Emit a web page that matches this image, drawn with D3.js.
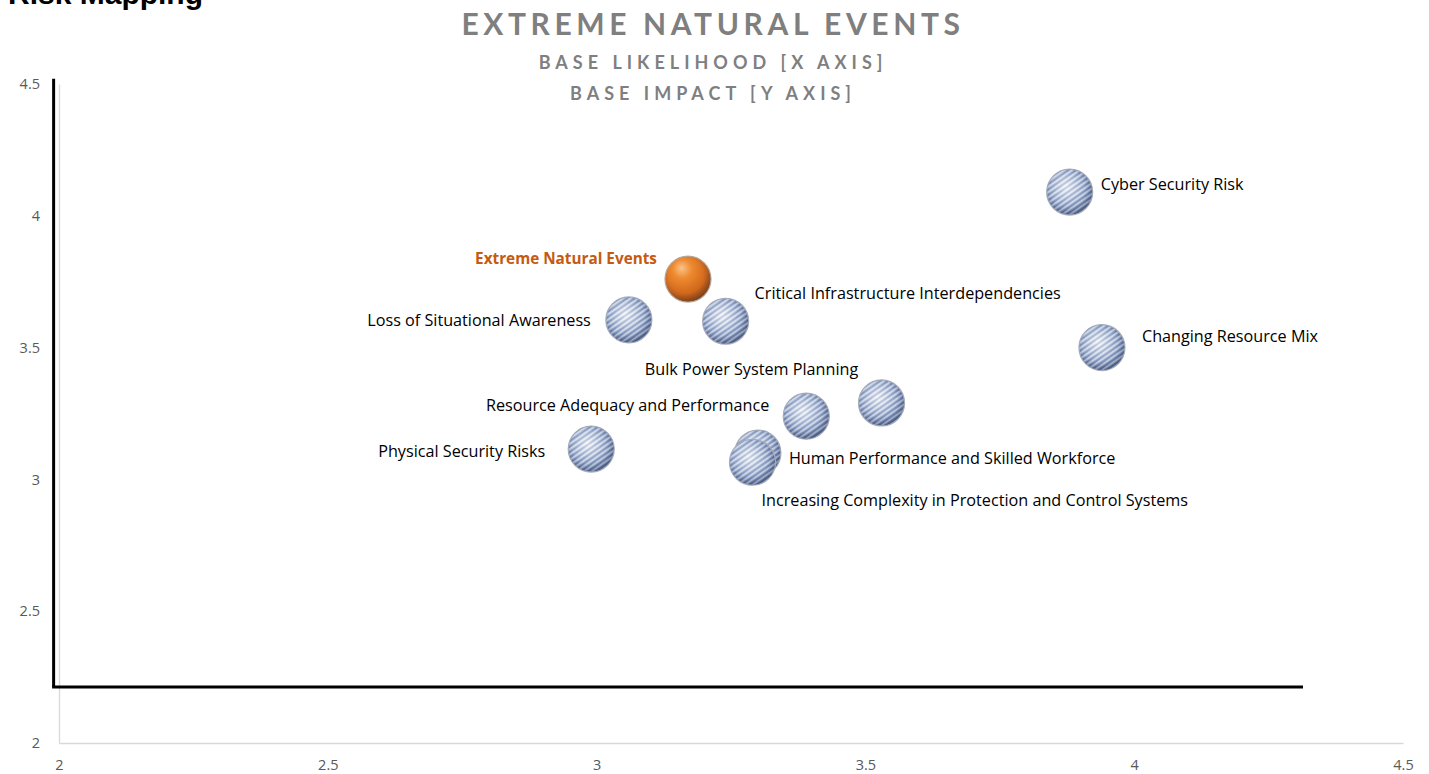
<!DOCTYPE html>
<html><head><meta charset="utf-8">
<script src="https://cdn.jsdelivr.net/npm/d3@7/dist/d3.min.js"></script>
<style>
html,body{margin:0;padding:0;background:#fff;overflow:hidden}
svg{display:block}
</style></head>
<body>
<svg id="chart" width="1429" height="774"></svg>
<script>
// ---- data ----
const risks = [
  "Cyber Security Risk",
  "Extreme Natural Events",
  "Critical Infrastructure Interdependencies",
  "Loss of Situational Awareness",
  "Changing Resource Mix",
  "Bulk Power System Planning",
  "Resource Adequacy and Performance",
  "Physical Security Risks",
  "Human Performance and Skilled Workforce",
  "Increasing Complexity in Protection and Control Systems"
];
const likelihood = [3.88, 3.17, 3.24, 3.06, 3.94, 3.53, 3.39, 2.99, 3.30, 3.29];
const impact     = [4.09, 3.76, 3.60, 3.605, 3.50, 3.29, 3.24, 3.115, 3.10, 3.065];
const highlighted = "Extreme Natural Events";
const xTicks = [2, 2.5, 3, 3.5, 4, 4.5];
const yTicks = [2, 2.5, 3, 3.5, 4, 4.5];
const xDomain = [2, 4.5];
const yDomain = [2, 4.5];
// reference frame lines (data units)
const frameX = 1.99, frameYTop = 4.52, frameYBottom = 2.212, frameXRight = 4.314;

// ---- layout (label placement, not data) ----
const labelPlacement = [
  {dx: 31, dy: -8, anchor: "start"},
  {dx: -31, dy: -20, anchor: "end"},
  {dx: 29, dy: -28, anchor: "start"},
  {dx: -38, dy: 0, anchor: "end"},
  {dx: 40, dy: -11, anchor: "start"},
  {dx: -130, dy: -34, anchor: "middle"},
  {dx: -37, dy: -11, anchor: "end"},
  {dx: -46, dy: 2, anchor: "end"},
  {dx: 31, dy: 5, anchor: "start"},
  {dx: 9, dy: 38, anchor: "start"}
];

const svg = d3.select("#chart");
const x = d3.scaleLinear().domain(xDomain).range([59, 1403]);
const y = d3.scaleLinear().domain(yDomain).range([743, 84]);
const R = 23;

const defs = svg.append("defs");
// blue sphere gradient
const bg = defs.append("radialGradient").attr("id","blueSphere")
  .attr("cx","45%").attr("cy","42%").attr("r","62%").attr("fx","42%").attr("fy","38%");
bg.append("stop").attr("offset","0%").attr("stop-color","#edf1f8");
bg.append("stop").attr("offset","35%").attr("stop-color","#bfcce3");
bg.append("stop").attr("offset","72%").attr("stop-color","#8499c2");
bg.append("stop").attr("offset","100%").attr("stop-color","#4c6290");
// stripes pattern
const pat = defs.append("pattern").attr("id","stripes").attr("patternUnits","userSpaceOnUse")
  .attr("width",4.4).attr("height",4.4).attr("patternTransform","rotate(-35)");
pat.append("rect").attr("x",0).attr("y",0).attr("width",4.4).attr("height",2.0).attr("fill","rgba(255,255,255,0.5)");
pat.append("rect").attr("x",0).attr("y",2.4).attr("width",4.4).attr("height",1.6).attr("fill","rgba(50,70,120,0.22)");
// edge shading overlay
const sh = defs.append("radialGradient").attr("id","edgeShade")
  .attr("cx","45%").attr("cy","42%").attr("r","60%");
sh.append("stop").attr("offset","65%").attr("stop-color","rgba(40,50,80,0)");
sh.append("stop").attr("offset","100%").attr("stop-color","rgba(40,50,80,0.3)");
// orange sphere
const og = defs.append("radialGradient").attr("id","orangeSphere")
  .attr("cx","40%").attr("cy","32%").attr("r","70%").attr("fx","36%").attr("fy","26%");
og.append("stop").attr("offset","0%").attr("stop-color","#fbc38a");
og.append("stop").attr("offset","30%").attr("stop-color","#ee8a30");
og.append("stop").attr("offset","75%").attr("stop-color","#d0661a");
og.append("stop").attr("offset","100%").attr("stop-color","#9a4608");

// title
svg.append("text").attr("x",8).attr("y",4).attr("font-family","Liberation Sans, Arial, sans-serif")
  .attr("font-weight","bold").attr("font-size",30).attr("fill","#000").text("Risk Mapping");
const tf = "Lato, 'Open Sans', sans-serif";
svg.append("text").attr("x",713).attr("y",35).attr("text-anchor","middle").attr("font-family",tf)
  .attr("font-weight","bold").attr("font-size",30).attr("letter-spacing",4.6).attr("fill","#7f7f7f")
  .text("EXTREME NATURAL EVENTS");
svg.append("text").attr("x",713).attr("y",69).attr("text-anchor","middle").attr("font-family",tf)
  .attr("font-weight","bold").attr("font-size",18).attr("letter-spacing",5).attr("fill","#7f7f7f")
  .text("BASE LIKELIHOOD [X AXIS]");
svg.append("text").attr("x",713).attr("y",100).attr("text-anchor","middle").attr("font-family",tf)
  .attr("font-weight","bold").attr("font-size",18).attr("letter-spacing",5).attr("fill","#7f7f7f")
  .text("BASE IMPACT [Y AXIS]");

// axes
const xAxis = d3.axisBottom(x).tickValues(xTicks).tickSize(0).tickPadding(17).tickFormat(d3.format(""));
const yAxis = d3.axisLeft(y).tickValues(yTicks).tickSize(0).tickPadding(19).tickFormat(d3.format(""));
const gx = svg.append("g").attr("transform",`translate(0,${y(2)})`).call(xAxis);
const gy = svg.append("g").attr("transform",`translate(${x(2)},0)`).call(yAxis);
[gx, gy].forEach(g => {
  g.select(".domain").attr("stroke","#d9d9d9").attr("stroke-width",1.3);
  g.selectAll("text").attr("font-family","'Open Sans', sans-serif").attr("font-size",14.5).attr("fill","#595959");
});

// frame lines
svg.append("line").attr("x1",x(frameX)).attr("x2",x(frameX)).attr("y1",y(frameYTop)).attr("y2",y(frameYBottom))
  .attr("stroke","#000").attr("stroke-width",3);
svg.append("line").attr("x1",x(frameX)-1.5).attr("x2",x(frameXRight)).attr("y1",y(frameYBottom)).attr("y2",y(frameYBottom))
  .attr("stroke","#000").attr("stroke-width",3);

// bubbles
const data = risks.map((r,i)=>({name:r, lx:likelihood[i], ly:impact[i], lp:labelPlacement[i]}));
const bub = svg.append("g").selectAll("g").data(data).join("g")
  .attr("transform", d=>`translate(${x(d.lx)},${y(d.ly)})`);
bub.append("circle").attr("r",R).attr("fill", d=> d.name===highlighted ? "url(#orangeSphere)" : "url(#blueSphere)")
  .attr("stroke", d=> d.name===highlighted ? "#b8a898" : "#a3abbb").attr("stroke-width",1.2);
bub.filter(d=>d.name!==highlighted).append("circle").attr("r",R-0.5).attr("fill","url(#stripes)");
bub.append("circle").attr("r",R-0.5).attr("fill","url(#edgeShade)");

// labels
svg.append("g").selectAll("text").data(data).join("text")
  .attr("x", d=>x(d.lx)+d.lp.dx).attr("y", d=>y(d.ly)+d.lp.dy)
  .attr("dy","0.35em").attr("text-anchor", d=>d.lp.anchor)
  .attr("font-family","'Open Sans', sans-serif")
  .attr("font-size", d=>d.name===highlighted ? 15.3 : 16.2)
  .attr("font-weight", d=>d.name===highlighted ? "bold" : "normal")
  .attr("fill", d=>d.name===highlighted ? "#c55a11" : "#000")
  .text(d=>d.name);
</script>
</body></html>
